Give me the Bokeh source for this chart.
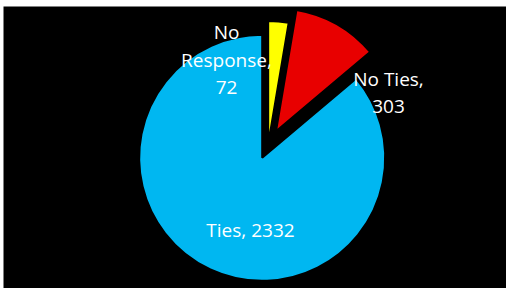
import numpy as np
from bokeh.plotting import figure
from bokeh.models import Range1d, ColumnDataSource
from bokeh.core.properties import value
from bokeh.embed import file_html
from bokeh.resources import INLINE

# data
categories = ["No Response", "No Ties", "Ties"]
counts = [72, 303, 2332]
colors = ["#FFFF00", "#E80000", "#00B7F1"]

# layout (data units = window pixels; y measured upward from bottom of window)
W, H = 506, 288
LEFT, TOP = 3, 6
center = (267.6, 288 - 144.6)
radius = 123
explode = [1, 16, 14]
label_lines = [["No", "Response,", "72"], ["No Ties,", "303"], ["Ties, 2332"]]
label_pos = [(226, 288 - 59), (388, 288 - 92), (250, 288 - 229)]
line_gap = 28

vals = np.array(counts, dtype=float)
frac = vals / vals.sum()
cum_end = np.cumsum(frac)
cum_start = cum_end - frac
start = np.pi / 2 - 2 * np.pi * cum_end
end = np.pi / 2 - 2 * np.pi * cum_start
mid = (start + end) / 2
ex = np.array(explode, dtype=float)
cx = center[0] + ex * np.cos(mid)
cy = center[1] + ex * np.sin(mid)

src = ColumnDataSource(dict(x=cx, y=cy, start=start, end=end, color=colors, cat=categories))

p = figure(width=W, height=H, output_backend="svg", toolbar_location=None,
           x_range=Range1d(LEFT, W), y_range=Range1d(0, H - TOP),
           x_axis_type=None, y_axis_type=None,
           min_border_left=LEFT, min_border_top=TOP, min_border_right=0, min_border_bottom=0,
           background_fill_color="black", border_fill_color="white",
           outline_line_color=None)
p.grid.visible = False

p.wedge(x="x", y="y", radius=radius, start_angle="start", end_angle="end",
        fill_color="color", line_color="black", line_width=2, source=src)

tx, ty, tt = [], [], []
for i, lines in enumerate(label_lines):
    n = len(lines)
    for j, s in enumerate(lines):
        tx.append(label_pos[i][0])
        ty.append(label_pos[i][1] - (j - (n - 1) / 2) * line_gap)
        tt.append(s)
p.text(x=tx, y=ty, text=tt, text_color="white", text_font=value("Open Sans"),
       text_font_size="19px", text_align="center", text_baseline="middle")

open("out.html", "w").write(file_html(p, INLINE))
